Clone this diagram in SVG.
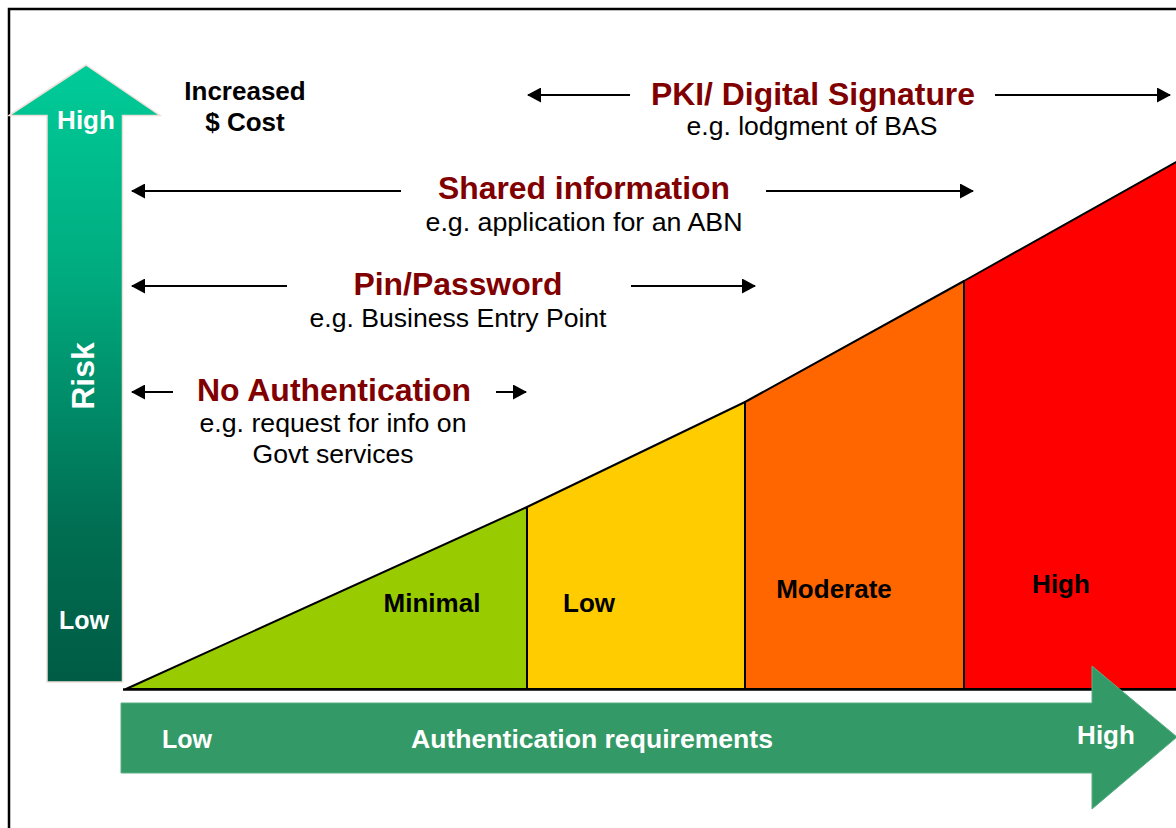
<svg xmlns="http://www.w3.org/2000/svg" width="1176" height="828" viewBox="0 0 1176 828">
  <defs>
    <linearGradient id="riskFill" x1="0" y1="0" x2="0" y2="1">
      <stop offset="0" stop-color="#00cc99"/>
      <stop offset="0.35" stop-color="#00aa7e"/>
      <stop offset="0.75" stop-color="#006e52"/>
      <stop offset="1" stop-color="#005c45"/>
    </linearGradient>
    <marker id="tip" viewBox="0 0 14 15" refX="13" refY="7.5" markerWidth="14" markerHeight="15" markerUnits="userSpaceOnUse" orient="auto">
      <path d="M0,0 L14,7.5 L0,15 Z" fill="#000"/>
    </marker>
    <style>
      .sans { font-family: "Liberation Sans", Arial, sans-serif; }
      .title { font-family: "Liberation Sans", Arial, sans-serif; font-weight: bold; font-size: 31px; fill: #800000; text-anchor: middle; }
      .sub { font-family: "Liberation Sans", Arial, sans-serif; font-size: 25px; fill: #000; text-anchor: middle; }
      .band { font-family: "Liberation Sans", Arial, sans-serif; font-weight: bold; font-size: 26px; fill: #000; text-anchor: middle; }
      .white { font-family: "Liberation Sans", Arial, sans-serif; font-weight: bold; font-size: 25px; fill: #fff; text-anchor: middle; }
      .conn { stroke: #000; stroke-width: 2; fill: none; marker-end: url(#tip); }
      .edge { stroke: #000; stroke-width: 2; stroke-linejoin: round; }
    </style>
  </defs>

  <rect width="1176" height="828" fill="#fff"/>
  <!-- page frame -->
  <rect x="9" y="9" width="1180" height="840" fill="none" stroke="#000" stroke-width="2.5"/>

  <!-- rising risk bands -->
  <g id="band-minimal">
    <polygon class="edge" points="126,689 527,507 527,689" fill="#99cc00"/>
    <text class="band" x="432" y="612">Minimal</text>
  </g>
  <g id="band-low">
    <polygon class="edge" points="527,507 745,402 745,689 527,689" fill="#ffcc00"/>
    <text class="band" x="589" y="612">Low</text>
  </g>
  <g id="band-moderate">
    <polygon class="edge" points="745,402 964,281 964,689 745,689" fill="#ff6600"/>
    <text class="band" x="834" y="598">Moderate</text>
  </g>
  <g id="band-high">
    <polygon class="edge" points="964,281 1178,161 1178,689 964,689" fill="#ff0000"/>
    <text class="band" x="1061" y="593">High</text>
  </g>
  <line x1="123" y1="689.5" x2="1176" y2="689.5" stroke="#000" stroke-width="2.5"/>

  <!-- vertical risk axis -->
  <g id="risk-axis">
    <polygon points="86,65 160,115.5 122.5,115.5 122.5,682 47,682 47,115.5 9,115.5" fill="url(#riskFill)" stroke="#eee0d8" stroke-width="1.5"/>
    <text class="white" x="86" y="129" style="font-size:26px">High</text>
    <text class="white" x="84" y="629">Low</text>
    <text class="white" transform="translate(94,376) rotate(-90)" style="font-size:32px">Risk</text>
  </g>

  <!-- horizontal authentication axis -->
  <g id="auth-axis">
    <polygon points="121,703 1092,703 1092,666 1177,737 1092,809 1092,773 121,773" fill="#339966" stroke="#5aae84" stroke-width="1"/>
    <text class="white" x="187" y="748">Low</text>
    <text class="white" x="592" y="748" textLength="362" lengthAdjust="spacingAndGlyphs">Authentication requirements</text>
    <text class="white" x="1106" y="744" style="font-size:26px">High</text>
  </g>

  <g id="cost-label">
    <text class="sans" x="245" y="100" font-size="26" font-weight="bold" text-anchor="middle">Increased</text>
    <text class="sans" x="245" y="131" font-size="26" font-weight="bold" text-anchor="middle">$ Cost</text>
  </g>

  <!-- authentication methods -->
  <g id="pki">
    <text class="title" x="813" y="105" textLength="324" lengthAdjust="spacingAndGlyphs">PKI/ Digital Signature</text>
    <text class="sub" x="812" y="135" textLength="251" lengthAdjust="spacingAndGlyphs">e.g. lodgment of BAS</text>
  </g>
  <g id="shared-information">
    <text class="title" x="584" y="199" textLength="292" lengthAdjust="spacingAndGlyphs">Shared information</text>
    <text class="sub" x="584" y="231" textLength="317" lengthAdjust="spacingAndGlyphs">e.g. application for an ABN</text>
  </g>
  <g id="pin-password">
    <text class="title" x="458" y="295" textLength="209" lengthAdjust="spacingAndGlyphs">Pin/Password</text>
    <text class="sub" x="458" y="327" textLength="297" lengthAdjust="spacingAndGlyphs">e.g. Business Entry Point</text>
  </g>
  <g id="no-authentication">
    <text class="title" x="334" y="401" textLength="274" lengthAdjust="spacingAndGlyphs">No Authentication</text>
    <text class="sub" x="333" y="432" textLength="267" lengthAdjust="spacingAndGlyphs">e.g. request for info on</text>
    <text class="sub" x="333" y="463" textLength="161" lengthAdjust="spacingAndGlyphs">Govt services</text>
  </g>

  <!-- range arrows -->
  <g id="connectors">
    <line class="conn" x1="630" y1="95" x2="528" y2="95"/>
    <line class="conn" x1="995" y1="95" x2="1170" y2="95"/>
    <line class="conn" x1="401" y1="191" x2="132" y2="191"/>
    <line class="conn" x1="766" y1="191" x2="973" y2="191"/>
    <line class="conn" x1="287" y1="286" x2="132" y2="286"/>
    <line class="conn" x1="631" y1="286" x2="755" y2="286"/>
    <line class="conn" x1="173" y1="392" x2="132" y2="392"/>
    <line class="conn" x1="496" y1="392" x2="526" y2="392"/>
  </g>
</svg>
